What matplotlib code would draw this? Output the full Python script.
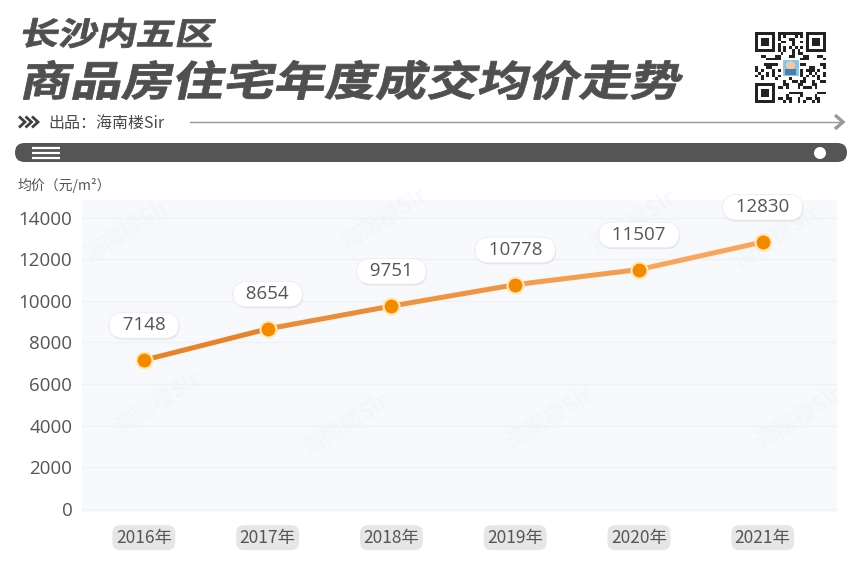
import numpy as np
import matplotlib
matplotlib.use("Agg")
import matplotlib.pyplot as plt
from matplotlib.font_manager import FontProperties
from matplotlib.textpath import TextPath
from matplotlib.patches import PathPatch, FancyBboxPatch, Circle, Rectangle
from matplotlib.transforms import Affine2D
from matplotlib.collections import LineCollection
import matplotlib.patheffects as pe

plt.rcParams['font.family'] = ['Noto Sans CJK SC', 'DejaVu Sans']

# ---- data ----
years = ["2016年", "2017年", "2018年", "2019年", "2020年", "2021年"]
avg_price = [7148, 8654, 9751, 10778, 11507, 12830]
y_ticks = [0, 2000, 4000, 6000, 8000, 10000, 12000, 14000]

title_1 = "长沙内五区"
title_2 = "商品房住宅年度成交均价走势"
credit = "出品：海南楼Sir"
unit_label = "均价（元/m²）"
watermark = "海南楼Sir"

W, H = 867, 563
DARK = "#555555"
TXT = "#555555"
NUM_FONT = ["Open Sans", "DejaVu Sans"]

fig = plt.figure(figsize=(W / 100, H / 100), dpi=100)
fig.patch.set_facecolor("white")

# overlay axes in pixel coordinates (y grows downward)
bg = fig.add_axes([0, 0, 1, 1])
bg.set_xlim(0, W)
bg.set_ylim(H, 0)
bg.axis("off")
bg.set_zorder(0)


def fitted_text(ax, s, x0, x1, y0, y1, color, skew=12, weight="heavy"):
    fp = FontProperties(family="Noto Sans CJK SC", weight=weight)
    tp = TextPath((0, 0), s, size=100, prop=fp)
    v = tp.vertices
    bx0, by0 = v[:, 0].min(), v[:, 1].min()
    bx1, by1 = v[:, 0].max(), v[:, 1].max()
    shear = np.tan(np.radians(skew))
    h = y1 - y0
    w_target = (x1 - x0) - shear * h
    sx = w_target / (bx1 - bx0)
    sy = h / (by1 - by0)
    tr = (Affine2D().translate(-bx0, -by0).scale(sx, sy)
          .skew(np.arctan(shear), 0).scale(1, -1).translate(x0, y1))
    path = tr.transform_path(tp)
    ax.add_patch(PathPatch(path, facecolor=color, edgecolor=color, lw=0.6, zorder=5))


# titles
fitted_text(bg, title_1, 18, 217, 18, 48, "#4f4f4f")
fitted_text(bg, title_2, 18, 686, 60, 100, "#4f4f4f")

# QR-style badge
qx0, qy0, qs = 755, 32, 71
n = 25
cell = qs / n
mods = np.zeros((n, n), dtype=bool)
for i in range(n):
    for j in range(n):
        mods[i, j] = ((i * 7 + j * 3 + (i * j) % 5) % 3 == 0) ^ ((i + 2 * j) % 4 == 1)


def finder(r, c):
    mods[r:r + 7, c:c + 7] = False
    mods[r, c:c + 7] = True
    mods[r + 6, c:c + 7] = True
    mods[r:r + 7, c] = True
    mods[r:r + 7, c + 6] = True
    mods[r + 2:r + 5, c + 2:c + 5] = True
    if r > 0:
        mods[r - 1, c:c + 8 if c == 0 else c + 7] = False
    else:
        mods[7, max(c - 1, 0):c + 8] = False
    if c > 0:
        mods[r:r + 8, c - 1] = False
    else:
        mods[r:r + 8, 7] = False


finder(0, 0)
finder(0, n - 7)
finder(n - 7, 0)
mods[9:16, 9:16] = False
for i in range(n):
    for j in range(n):
        if mods[i, j]:
            bg.add_patch(Rectangle((qx0 + j * cell, qy0 + i * cell), cell, cell,
                                   facecolor="#222222", edgecolor="none", zorder=3))
bg.add_patch(Rectangle((qx0 + 9.5 * cell, qy0 + 9.5 * cell), 6 * cell, 6 * cell,
                       facecolor="#8fc3df", edgecolor="white", lw=0.8, zorder=4))
bg.add_patch(Circle((qx0 + 12.5 * cell, qy0 + 11.8 * cell), 1.6 * cell,
                    facecolor="#e9c9b0", edgecolor="none", zorder=5))
bg.add_patch(Rectangle((qx0 + 10.5 * cell, qy0 + 13.2 * cell), 4 * cell, 2 * cell,
                       facecolor="#4c7fa8", edgecolor="none", zorder=5))

# credit row
for dx in (0, 6.5, 13):
    bg.plot([19 + dx, 25 + dx, 19 + dx], [116.5, 122, 127.5], color="#3f3f3f", lw=2.0,
            solid_capstyle="butt", solid_joinstyle="miter")
bg.text(48, 123, credit, fontsize=11.5, color="#4a4a4a", va="center", ha="left")
bg.plot([190, 842], [122, 122], color="#999999", lw=1.0)
bg.plot([835, 843, 835], [115, 122, 129], color="#999999", lw=2.4, solid_capstyle="butt",
        solid_joinstyle="miter")

# dark header bar
bg.add_patch(FancyBboxPatch((15, 143), 832, 19,
                            boxstyle="round,pad=0,rounding_size=9.5",
                            facecolor=DARK, edgecolor="none", mutation_aspect=1))
for yy in (147.5, 152.5, 157.5):
    bg.plot([32, 60], [yy, yy], color="white", lw=1.6, solid_capstyle="butt")
bg.add_patch(Circle((820, 153), 6, facecolor="white", edgecolor="none", zorder=4))

bg.text(18, 185, unit_label, fontsize=10, color=TXT, va="center", ha="left")

# ---- chart ----
ax_left, ax_right, ax_top, ax_bottom = 82, 837, 200, 512
ax = fig.add_axes([ax_left / W, 1 - ax_bottom / H,
                   (ax_right - ax_left) / W, (ax_bottom - ax_top) / H])
ax.set_zorder(2)
ax.set_facecolor("#f7f9fc")
x = np.arange(len(years))
ax.set_xlim(-0.5, len(years) - 0.4)
ax.set_ylim(-150, 14850)

ax.set_yticks(y_ticks)
ax.set_yticklabels([str(v) for v in y_ticks], family=NUM_FONT)
ax.tick_params(axis="y", length=0, pad=7, labelsize=13.5, labelcolor=TXT)
ax.grid(axis="y", color="#eef1f6", lw=1.0)
ax.set_axisbelow(True)
for sp in ax.spines.values():
    sp.set_visible(False)

ax.set_xticks(x)
ax.set_xticklabels(years)
ax.tick_params(axis="x", length=0, pad=12, labelsize=12.5, labelcolor=TXT)
for lab in ax.get_xticklabels():
    lab.set_bbox(dict(boxstyle="round,pad=0.2,rounding_size=0.45",
                      facecolor="#e6e6e6", edgecolor="none"))

# faint watermarks
for wx, wy in [(0.06, 0.90), (0.40, 0.94), (0.73, 0.93), (0.10, 0.35),
               (0.62, 0.30), (0.95, 0.30), (0.35, 0.28), (0.92, 0.88)]:
    ax.text(wx, wy, watermark, transform=ax.transAxes, rotation=32,
            fontsize=16, fontweight="bold", color="#eceff4", alpha=0.35,
            ha="center", va="center", zorder=0.5)

# line with colour ramp from deep to light orange
pts = np.column_stack([x, avg_price])
segs = np.stack([pts[:-1], pts[1:]], axis=1)
c0 = np.array(matplotlib.colors.to_rgb("#de8536"))
c1 = np.array(matplotlib.colors.to_rgb("#f2a766"))
t = np.linspace(0, 1, len(segs))
cols = [tuple(c0 + (c1 - c0) * ti) for ti in t]
lc = LineCollection(segs, colors=cols, linewidths=3.6, capstyle="round",
                    joinstyle="round", zorder=3,
                    path_effects=[pe.Stroke(linewidth=5.6, foreground="#fff4e6"), pe.Normal()])
ax.add_collection(lc)
ax.plot(x, avg_price, linestyle="none", marker="o", markersize=11.5,
        markerfacecolor="#f28a00", markeredgecolor="#ffe7b3", markeredgewidth=1.5, zorder=4)

for xi, v in zip(x, avg_price):
    ann = ax.annotate("  " + str(v) + "  ", (xi, v), xytext=(0, 25), textcoords="offset points",
                      ha="center", va="center", fontsize=13.5, color="#555555", zorder=5,
                      family=NUM_FONT,
                      bbox=dict(boxstyle="round,pad=0.2,rounding_size=0.75",
                                facecolor="white", edgecolor="#ececec", lw=0.6))
    ann.get_bbox_patch().set_path_effects(
        [pe.SimplePatchShadow(offset=(0.6, -1.2), shadow_rgbFace="#000000", alpha=0.07),
         pe.Normal()])

fig.savefig("out.png", dpi=100, facecolor="white")
